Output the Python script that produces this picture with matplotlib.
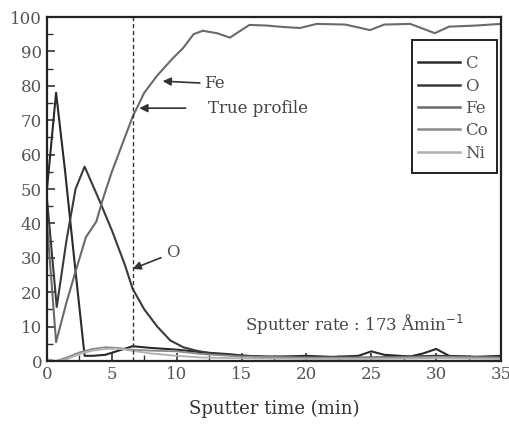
import matplotlib
matplotlib.use("Agg")
import matplotlib.pyplot as plt
from matplotlib.ticker import MultipleLocator
from matplotlib.patches import Rectangle

# ---- data ----
c_t = [0, 0.7, 1.4, 2.2, 2.9, 3.5, 4.5, 5.5, 6.6, 8, 10, 12, 14, 15, 17, 20, 22, 24, 25, 26, 28, 29, 30, 31, 33, 35]
c_v = [50, 78, 55, 26, 1.5, 1.5, 1.8, 3, 4.3, 3.8, 3.3, 2.5, 2, 1.6, 1.2, 1.5, 1.2, 1.5, 2.8, 1.8, 1.3, 2.2, 3.5, 1.5, 1.2, 1.5]

o_t = [0, 0.75, 1.5, 2.2, 2.9, 4, 5, 6, 6.6, 7.5, 8.5, 9.5, 10.5, 11.5, 13, 15, 20, 25, 30, 35]
o_v = [47, 15.7, 35, 50, 56.5, 47, 38, 28, 21, 15, 10, 6, 4, 3, 2, 1.5, 1, 1, 1.5, 1]

fe_t = [0, 0.7, 1.5, 2.2, 3.0, 3.8, 4.3, 5, 6, 6.6, 7.5, 8.5, 9.7, 10.5, 11.3, 12, 13.1, 14.1, 15.6,
        17, 18.2, 19.5, 20.8, 23, 24.9, 26, 28, 29.9, 31, 33, 35]
fe_v = [40, 5.5, 17, 26, 36, 40.5, 47, 55, 65, 71, 78, 83, 88, 91, 95, 96, 95.3, 94, 97.7,
        97.5, 97.1, 96.8, 98, 97.8, 96.2, 97.8, 98, 95.3, 97.2, 97.5, 98]

co_t = [0, 0.7, 1.5, 2.5, 3.5, 4.5, 5.5, 6.5, 8, 10, 12, 15, 20, 25, 30, 35]
co_v = [0.5, 0, 1, 2.5, 3.5, 4, 3.8, 3.3, 3, 2.8, 2, 1.3, 1, 1, 1.2, 1]

ni_t = [0, 0.7, 1.5, 2.5, 3.5, 4.5, 5.5, 6.5, 8, 10, 12, 15, 20, 25, 30, 35]
ni_v = [0.3, 0, 0.5, 2, 3, 3.5, 3.6, 3, 2.2, 1.5, 1, 0.8, 0.6, 0.6, 0.8, 0.6]

true_profile_t = 6.63
x_ticks = [0, 5, 10, 15, 20, 25, 30, 35]
y_ticks = [0, 10, 20, 30, 40, 50, 60, 70, 80, 90, 100]

plt.rcParams['font.family'] = ['DejaVu Serif']

fig = plt.figure(figsize=(5.09, 4.26), dpi=100)
ax = fig.add_axes([47/509, 1 - 361/426, (501-47)/509, (361-17)/426])

ax.plot(c_t, c_v, color='#2a2a2a', lw=1.5, label='C')
ax.plot(o_t, o_v, color='#3a3a3a', lw=1.5, label='O')
ax.plot(fe_t, fe_v, color='#6a6a6a', lw=1.5, label='Fe')
ax.plot(co_t, co_v, color='#8a8a8a', lw=1.3, label='Co')
ax.plot(ni_t, ni_v, color='#b0b0b0', lw=1.3, label='Ni')

ax.axvline(true_profile_t, color='#333333', lw=1.0, ls=(0, (3, 2)))

ax.set_xlim(0, 35)
ax.set_ylim(0, 100)
ax.set_xticks(x_ticks)
ax.set_yticks(y_ticks)
ax.xaxis.set_minor_locator(MultipleLocator(2.5))
ax.yaxis.set_minor_locator(MultipleLocator(5))
ax.tick_params(which='both', direction='in', top=False, right=False,
               labelsize=12, labelcolor='#555555', color='#333333')
ax.tick_params(which='major', length=6, width=1.2)
ax.tick_params(which='minor', length=4, width=1.0)
for s in ax.spines.values():
    s.set_linewidth(1.6)
    s.set_color('#222222')

ax.set_xlabel('Sputter time (min)', fontsize=13, color='#333333', labelpad=12)

arrowprops = dict(arrowstyle='-|>', color='#333333', lw=1.2, mutation_scale=12)
ax.annotate('Fe', xy=(8.7, 81.4), xytext=(12.1, 80.6), fontsize=12, color='#444444',
            va='center', ha='left', arrowprops=dict(arrowprops, shrinkA=1))
ax.annotate('True profile', xy=(6.9, 73.5), xytext=(12.4, 73.5), fontsize=12, color='#444444',
            va='center', ha='left', arrowprops=dict(arrowprops, shrinkA=14))
ax.annotate('O', xy=(6.4, 26.5), xytext=(9.2, 31.4), fontsize=12, color='#555555',
            va='center', ha='left', arrowprops=dict(arrowprops, shrinkA=2))
ax.text(15.3, 10.5, 'Sputter rate : 173 Åmin$^{-1}$', fontsize=12, color='#444444',
        va='center', ha='left')

# legend frame drawn as a rectangle, entries without frame
ax.add_patch(Rectangle((0.804, 0.5465), 0.187, 0.3865, transform=ax.transAxes,
                       fill=True, facecolor='white', edgecolor='#222222', lw=1.4, zorder=4))
leg = ax.legend(loc='upper left', bbox_to_anchor=(0.818, 0.889), borderaxespad=0,
                frameon=False, fontsize=12, handlelength=2.5, handletextpad=0.3,
                labelspacing=0.32, borderpad=0, labelcolor='#555555')
leg.set_zorder(5)
for h in leg.get_lines():
    h.set_linewidth(1.8)

fig.savefig('out.png', dpi=100)
